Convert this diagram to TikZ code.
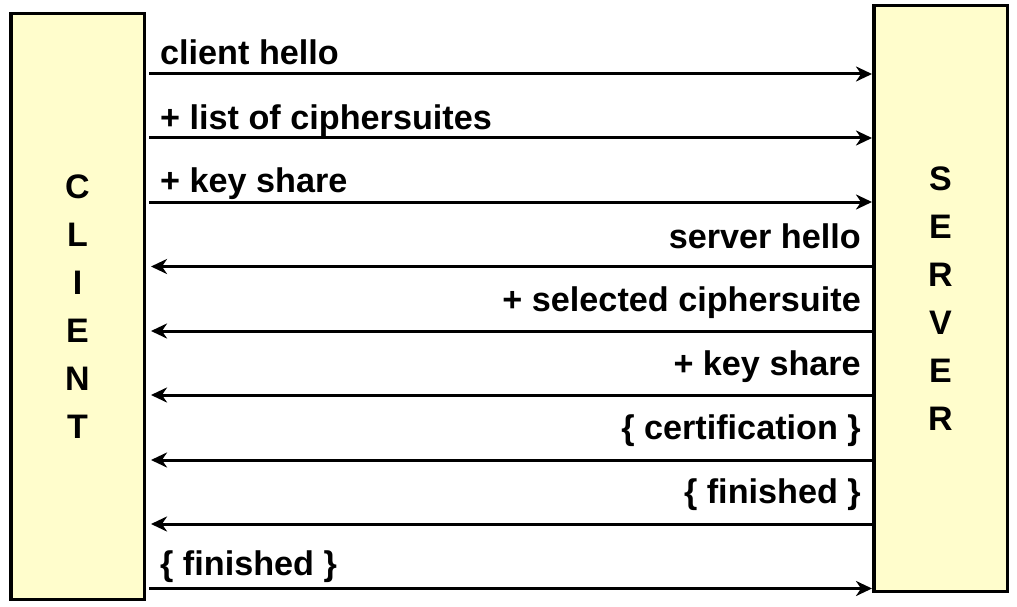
\documentclass[tikz,border=0pt]{standalone}
\usepackage{fontspec}
\setmainfont{Liberation Sans}
\usetikzlibrary{arrows.meta}
\definecolor{boxfill}{HTML}{FFFDCC}
\begin{document}
\begin{tikzpicture}[x=1pt,y=-1pt,
  party/.style={draw=black, line width=3.5pt, fill=boxfill, minimum width=133.5pt, minimum height=585.5pt,
    inner sep=0pt, align=center, font=\fontsize{34}{48}\selectfont\bfseries},
  msg/.style={line width=3pt, -{Stealth[length=16pt,width=15pt,inset=5pt]}},
  lbl/.style={inner sep=0pt, font=\fontsize{34.2}{40}\selectfont\bfseries}]
\useasboundingbox (0,0) rectangle (1017,607);
\node[party] (client) at (77.5,306.5) {C\\L\\I\\E\\N\\T};
\node[party] (server) at (940.5,298.5) {S\\E\\R\\V\\E\\R};
% arrow levels
\coordinate (y1) at (0,74);
\coordinate (y2) at (0,138);
\coordinate (y3) at (0,202);
\coordinate (y4) at (0,266.5);
\coordinate (y5) at (0,331);
\coordinate (y6) at (0,395);
\coordinate (y7) at (0,460);
\coordinate (y8) at (0,524);
\coordinate (y9) at (0,588.5);
% client -> server
\draw[msg, shorten <=3pt] (client.east |- y1) -- (server.west |- y1);
\draw[msg, shorten <=3pt] (client.east |- y2) -- (server.west |- y2);
\draw[msg, shorten <=3pt] (client.east |- y3) -- (server.west |- y3);
\draw[msg, shorten <=3pt] (client.east |- y9) -- (server.west |- y9);
% server -> client
\draw[msg, shorten >=5pt] (server.west |- y4) -- (client.east |- y4);
\draw[msg, shorten >=5pt] (server.west |- y5) -- (client.east |- y5);
\draw[msg, shorten >=5pt] (server.west |- y6) -- (client.east |- y6);
\draw[msg, shorten >=5pt] (server.west |- y7) -- (client.east |- y7);
\draw[msg, shorten >=5pt] (server.west |- y8) -- (client.east |- y8);
% labels
\node[lbl, anchor=base west] (l1) at (160,64.5) {client hello};
\node[lbl, anchor=base west] (l2) at (160,129.5) {+ list of ciphersuites};
\node[lbl, anchor=base west] (l3) at (160,192) {+ key share};
\node[lbl, anchor=base east] (l4) at (861,248) {server hello};
\node[lbl, anchor=base east] (l5) at (861,311) {+ selected ciphersuite};
\node[lbl, anchor=base east] (l6) at (861,375) {+ key share};
\node[lbl, anchor=base east] (l7) at (861,439) {\{ certification \}};
\node[lbl, anchor=base east] (l8) at (861,503) {\{ finished \}};
\node[lbl, anchor=base west] (l9) at (160,575) {\{ finished \}};
\end{tikzpicture}
\end{document}
